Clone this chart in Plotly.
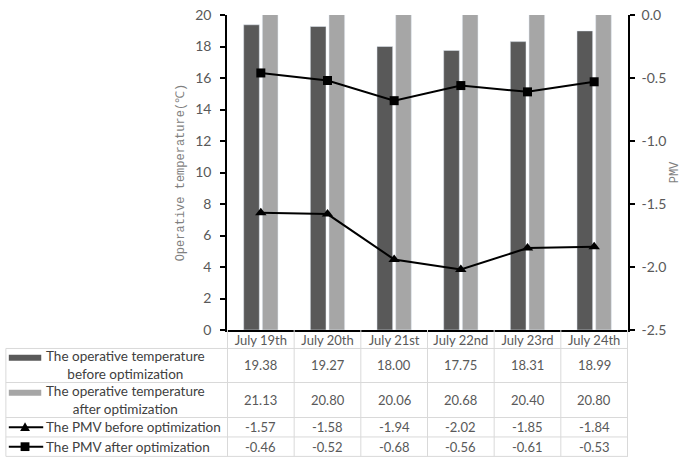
import plotly.graph_objects as go

# ---- data ----
days = ["July 19th", "July 20th", "July 21st", "July 22nd", "July 23rd", "July 24th"]
temp_before = [19.38, 19.27, 18.00, 17.75, 18.31, 18.99]
temp_after = [21.13, 20.80, 20.06, 20.68, 20.40, 20.80]
pmv_before = [-1.57, -1.58, -1.94, -2.02, -1.85, -1.84]
pmv_after = [-0.46, -0.52, -0.68, -0.56, -0.61, -0.53]

pmv_ticks = [-2.5, -2.0, -1.5, -1.0, -0.5, 0.0]
pmv_ticktext = ["-2.5", "-2.0", "-1.5", "-1.0", "-0.5", "0.0"]

row_names = [
    "The operative temperature<br>before optimization",
    "The operative temperature<br>after optimization",
    "The PMV before optimization",
    "The PMV after optimization",
]

DARK = "#595959"
LIGHT = "#a6a6a6"
GRID = "#d9d9d9"
TXT = "#595959"
FONT = "Lato"
SERIF = "Liberation Mono"

W, H = 685, 462
# plot area in pixels (the data table is laid out under it)
L, R, T, B = 227, 635, 6, 330


def px(x):
    return (x - L) / (R - L)


def py(y):
    return (B - y) / (B - T)


fig = go.Figure()
fig.add_trace(go.Bar(x=days, y=temp_before, marker_color=DARK, showlegend=False))
fig.add_trace(go.Bar(x=days, y=temp_after, marker_color=LIGHT, showlegend=False))
fig.add_trace(go.Scatter(x=days, y=pmv_after, yaxis="y2", mode="lines+markers",
                         line=dict(color="black", width=2),
                         marker=dict(symbol="square", size=9, color="black"), showlegend=False))
fig.add_trace(go.Scatter(x=days, y=pmv_before, yaxis="y2", mode="lines+markers",
                         line=dict(color="black", width=2),
                         marker=dict(symbol="triangle-up", size=10, color="black"), showlegend=False))

# ---- data table under the plot ----
shapes = []
annotations = []

TL = 2  # table left edge
row_bounds = [349, 384, 420, 440, 460]
row_centers = [366, 402, 430, 450]

for yb in row_bounds:
    shapes.append(dict(type="line", xref="paper", yref="paper", x0=px(TL), x1=px(R),
                       y0=py(yb), y1=py(yb), line=dict(color=GRID, width=1)))
shapes.append(dict(type="line", xref="paper", yref="paper", x0=px(TL), x1=px(TL),
                   y0=py(row_bounds[0]), y1=py(row_bounds[-1]), line=dict(color=GRID, width=1)))
for i in range(len(days) + 1):
    shapes.append(dict(type="line", xref="x", yref="paper", x0=i - 0.5, x1=i - 0.5,
                       y0=py(B), y1=py(row_bounds[-1]), line=dict(color=GRID, width=1)))

for series, yc in zip([temp_before, temp_after, pmv_before, pmv_after], row_centers):
    for d, v in zip(days, series):
        annotations.append(dict(x=d, y=py(yc), xref="x", yref="paper", text=f"{v:.2f}",
                                xanchor="center", yanchor="middle",
                                showarrow=False, font=dict(family=FONT, size=13, color=TXT)))

# row labels, with the series keys in front of them
for name, yc in zip(row_names, row_centers):
    annotations.append(dict(x=px(TL + 39), y=py(yc), xref="paper", yref="paper", text=name,
                            xanchor="left", yanchor="middle", showarrow=False, align="center",
                            font=dict(family=FONT, size=13.5, color="#404040")))

kx0, kx1 = TL + 3, TL + 36
kc = (kx0 + kx1) / 2
for col, yc in [(DARK, row_centers[0]), (LIGHT, row_centers[1])]:
    yk = yc - 7.5
    shapes.append(dict(type="rect", xref="paper", yref="paper", x0=px(kx0), x1=px(kx1),
                       y0=py(yk + 3), y1=py(yk - 3), fillcolor=col, line=dict(width=0)))
for yc in row_centers[2:]:
    shapes.append(dict(type="line", xref="paper", yref="paper", x0=px(kx0), x1=px(kx1 + 2),
                       y0=py(yc), y1=py(yc), line=dict(color="black", width=2)))
yt = row_centers[2]
shapes.append(dict(type="path", xref="paper", yref="paper",
                   path=f"M {px(kc - 5)} {py(yt + 4)} L {px(kc + 5)} {py(yt + 4)} L {px(kc)} {py(yt - 5)} Z",
                   fillcolor="black", line=dict(width=0)))
ys = row_centers[3]
shapes.append(dict(type="rect", xref="paper", yref="paper", x0=px(kc - 4.5), x1=px(kc + 4.5),
                   y0=py(ys + 4.5), y1=py(ys - 4.5), fillcolor="black", line=dict(width=0)))

fig.update_layout(
    width=W, height=H,
    margin=dict(l=L, r=W - R, t=T, b=H - B),
    plot_bgcolor="white", paper_bgcolor="white",
    barmode="group", bargap=0.44, bargroupgap=0.16,
    shapes=shapes, annotations=annotations,
    xaxis=dict(showline=True, linecolor="black", linewidth=1.5, ticks="",
               tickfont=dict(family=FONT, size=13, color=TXT), ticklabelstandoff=-2),
    yaxis=dict(range=[0, 20], dtick=2, showgrid=False, zeroline=False,
               showline=True, linecolor="black", linewidth=1.5,
               ticks="outside", ticklen=5, tickcolor="black", tickwidth=1.5,
               ticklabelstandoff=6, ticklabeloverflow="allow",
               tickfont=dict(family=FONT, size=14, color=TXT),
               title=dict(text="Operative temperature(℃)", standoff=8,
                          font=dict(family=SERIF, size=12, color="#7f7f7f"))),
    yaxis2=dict(range=[-2.5, 0], tickvals=pmv_ticks, ticktext=pmv_ticktext,
                overlaying="y", side="right",
                showgrid=False, zeroline=False, showline=True, linecolor="black", linewidth=1.5,
                ticks="outside", ticklen=5, tickcolor="black", tickwidth=1.5,
                ticklabelstandoff=4, ticklabeloverflow="allow",
                tickfont=dict(family=FONT, size=14, color=TXT),
                title=dict(text="PMV", standoff=4,
                           font=dict(family=SERIF, size=12, color="#7f7f7f"))),
)

# the page body has a default margin; drop it so the figure sits at the window corner
fig.write_html("out.html", config={"displayModeBar": False},
               post_script="document.body.style.margin='0';")
